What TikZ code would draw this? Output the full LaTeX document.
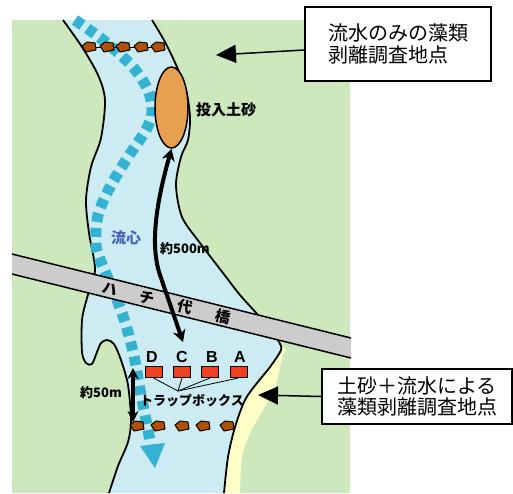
\documentclass[tikz,border=0pt]{standalone}
\usepackage{fontspec}
\setmainfont{Liberation Sans}
\newfontfamily\jp{Noto Sans CJK JP}
\usetikzlibrary{arrows.meta,shapes.geometric}

\definecolor{land}{RGB}{204,232,188}
\definecolor{water}{RGB}{204,235,243}
\definecolor{sandy}{RGB}{255,255,200}
\definecolor{bridgegray}{RGB}{204,204,204}
\definecolor{sediment}{RGB}{232,160,80}
\definecolor{trapred}{RGB}{240,64,32}
\definecolor{stone}{RGB}{176,80,0}
\definecolor{flowcyan}{RGB}{51,178,210}
\definecolor{flowlabel}{RGB}{70,100,180}

\begin{document}
\begin{tikzpicture}[x=1pt,y=-1pt,
  bank/.style={line width=1.8pt, line join=round},
  calloutbox/.style={draw, line width=1.5pt, fill=white, inner sep=0pt,
    font=\jp\fontsize{20}{22}\selectfont, align=left},
  smalllabel/.style={font=\jp\bfseries\fontsize{13}{13}\selectfont, inner sep=0pt},
  trapbox/.style={draw, line width=1pt, fill=trapred, minimum width=17pt,
    minimum height=11pt, inner sep=0pt},
  trapletter/.style={font=\bfseries\fontsize{16}{16}\selectfont, inner sep=0pt},
  bridgeletter/.style={font=\jp\bfseries\fontsize{15}{15}\selectfont, inner sep=0pt, rotate=-14},
  pointer/.style={line width=1.5pt, -{Triangle[length=20pt,width=18pt]}},
  span/.style={line width=4pt, {Stealth[length=12pt,width=13pt]}-{Stealth[length=12pt,width=13pt]}},
  stonerow/.style={fill=stone, draw=black, line width=1pt, line join=round},
]
\useasboundingbox (0,0) rectangle (513,493);

% land
\fill[land] (12,20) rectangle (350,493);

% sand bar on the right bank below the bridge
\fill[sandy] (279,342) -- (286,350)
  -- plot[smooth] coordinates {(282,357) (275,387) (263,410) (250,433) (242,457) (240,493)}
  -- (200,493) -- (200,400) -- cycle;

% river water
\fill[water] plot[smooth] coordinates {(63,20) (82,47) (98,75) (105,100) (101,138) (91,167)
    (86,200) (89,233) (95,270) (87,298) (82,320) (82,352) (86,363) (92,364) (97,352)
    (101,343) (107,340) (114,344) (121,360) (128,385) (131,420) (128,442) (118,466) (109,493)}
  -- plot[smooth] coordinates {(224,493) (228,457) (235,427) (245,400) (257,383) (270,367)
    (281,350) (279,342) (272,332) (258,315) (240,295) (223,273) (200,243) (182,217)
    (176,185) (181,157) (188,140) (190,117) (186,90) (177,67) (165,42) (152,20)}
  -- cycle;

% banks
\draw[bank] plot[smooth] coordinates {(63,20) (82,47) (98,75) (105,100) (101,138) (91,167)
    (86,200) (89,233) (95,270) (87,298) (82,320) (82,352) (86,363) (92,364) (97,352)
    (101,343) (107,340) (114,344) (121,360) (128,385) (131,420) (128,442) (118,466) (109,493)};
\draw[bank] plot[smooth] coordinates {(152,20) (165,42) (177,67) (186,90) (190,117)
    (188,140) (181,157) (176,185) (182,217) (200,243) (223,273) (240,295) (258,315)
    (272,332) (279,342) (281,350) (270,367) (257,383) (245,400) (235,427) (228,457) (224,493)};

% main current
\draw[flowcyan, line width=11pt, dash pattern=on 9pt off 6pt]
  plot[smooth] coordinates {(75,20) (103,40) (132,66) (148,90) (152,112) (146,130)
    (128,157) (110,187) (98,215) (96,245) (103,267) (114,292) (125,322) (134,356)
    (140,390) (146,420) (151,446)};
\fill[flowcyan] (140,446) -- (165,443) -- (155,468) -- cycle;
\node[smalllabel, text=flowlabel, font=\jp\bfseries\fontsize{15}{15}\selectfont]
  (flowtext) at (126,238) {流心};

% rows of stones
\draw[line width=1pt] (89,47) -- (158,47);
\foreach \px in {89,107,123,141,158}
  \draw[stonerow] (\px,47) ++(-7,-1) -- ++(5,-4) -- ++(8,1) -- ++(1,7) -- ++(-10,2) -- cycle;
\foreach \px in {137,158,182,203,227}
  \draw[stonerow] (\px,426) ++(-7,-1) -- ++(5,-4) -- ++(8,1) -- ++(1,7) -- ++(-10,2) -- cycle;

% placed sediment
\node[ellipse, draw, line width=1.5pt, fill=sediment, minimum width=33pt,
  minimum height=81pt, inner sep=0pt] (sand) at (171.5,107.5) {};
\node[smalllabel, font=\jp\bfseries\fontsize{15}{15}\selectfont] (sandlabel) at (226,110) {投入土砂};

% bridge
\fill[bridgegray] (12,254) -- (351,338) -- (351,358) -- (12,274) -- cycle;
\draw[line width=1.5pt] (12,254) -- (351,338);
\draw[line width=1.5pt] (12,274) -- (351,358);
\node[bridgeletter] (br1) at (110,289) {ハ};
\node[bridgeletter] (br2) at (147,298) {チ};
\node[bridgeletter] (br3) at (185,307) {代};
\node[bridgeletter] (br4) at (223,317) {橋};

% trap boxes
\node[trapbox] (trapD) at (153.5,372) {};
\node[trapbox] (trapC) at (182,372) {};
\node[trapbox] (trapB) at (210,372) {};
\node[trapbox] (trapA) at (238.5,372) {};
\node[trapletter] (letD) at (152,357) {D};
\node[trapletter] (letC) at (182,357) {C};
\node[trapletter] (letB) at (212,357) {B};
\node[trapletter] (letA) at (240,357) {A};
\coordinate (trapjoin) at (178,391);
\foreach \b in {trapD,trapC,trapB,trapA}
  \draw[line width=0.8pt] (\b.south) -- (trapjoin);
\node[smalllabel] (traptext) at (192,401) {トラップボックス};

% distances
\coordinate (c500) at (183,342);
\draw[span] (c500) -- (160,275) .. controls (148,240) and (160,190) .. (sand.south);
\node[smalllabel] (dist500) at (185,249) {約500m};
\coordinate (top50) at (133,368);
\coordinate (bot50) at (133,422);
\draw[line width=3.5pt, {Stealth[length=11pt,width=11pt]}-{Stealth[length=11pt,width=11pt]}] (bot50) -- (top50);
\node[smalllabel] (dist50) at (101,393) {約50m};

% call-outs
\node[calloutbox, minimum width=186pt, minimum height=74pt] (note1) at (398,44)
  {流水のみの藻類\\剥離調査地点};
\coordinate (tip1) at (216,55);
\draw[pointer] ([yshift=-6pt]note1.west) -- (tip1);

\node[calloutbox, align=center, font=\jp\fontsize{20}{21}\selectfont,
  minimum width=190pt, minimum height=55pt] (note2) at (417,396.5)
  {土砂＋流水による\\藻類剥離調査地点};
\coordinate (tip2) at (258,395);
\draw[pointer] (note2.west) -- (tip2);
\end{tikzpicture}
\end{document}
